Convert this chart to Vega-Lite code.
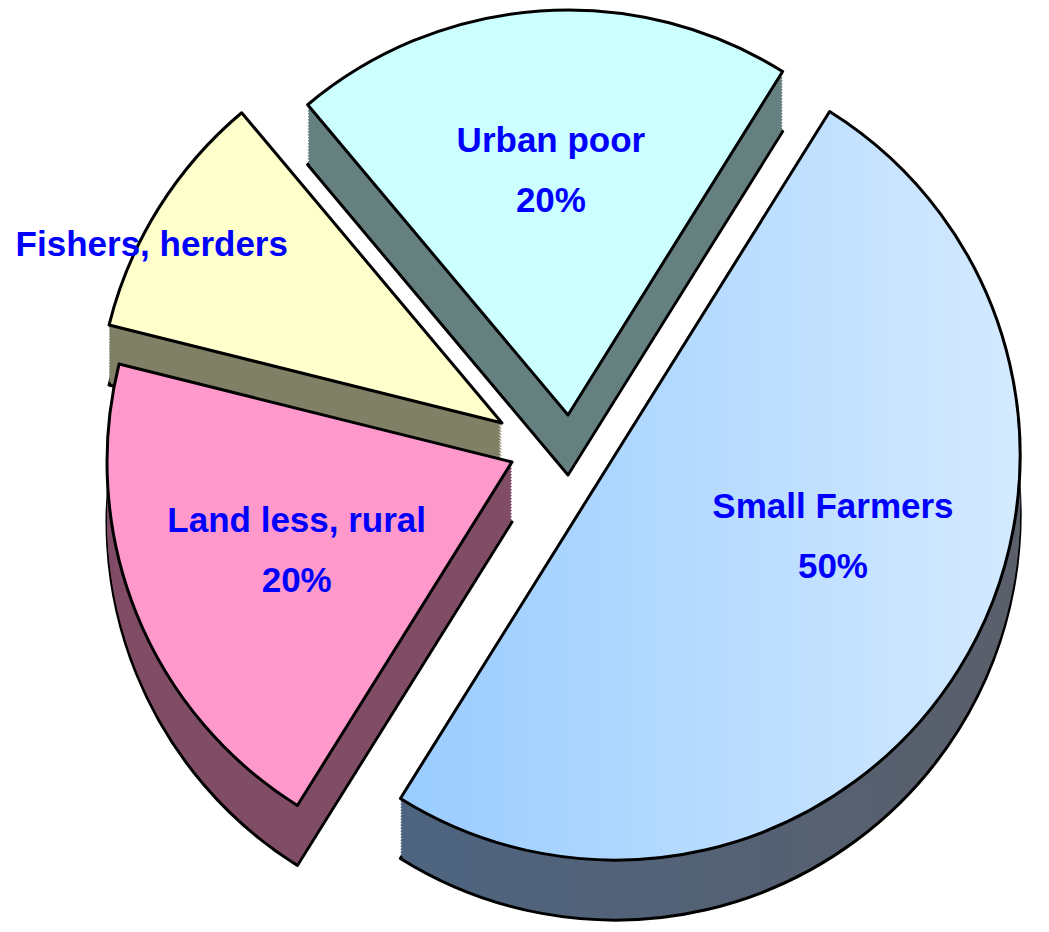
{
  "$schema": "https://vega.github.io/schema/vega-lite/v6.json",
  "width": 1049,
  "height": 932,
  "padding": 0,
  "autosize": {"type": "none"},
  "background": "white",
  "config": {
    "view": {"stroke": null},
    "arc": {"radius": 405},
    "text": {"font": "Liberation Sans, Arial, sans-serif", "fontSize": 35, "fontWeight": "bold", "fill": "#0000FF", "lineBreak": "\n", "lineHeight": 60},
    "style": {
      "edge": {"stroke": "black", "strokeWidth": 3, "strokeJoin": "round"}
    }
  },
  "data": {
    "values": [
      {"category": "Small Farmers", "value": 50, "order": 1, "label": "Small Farmers\n50%"},
      {"category": "Land less, rural", "value": 20, "order": 2, "label": "Land less, rural\n20%"},
      {"category": "Fishers, herders", "value": 10, "order": 3, "label": "Fishers, herders"},
      {"category": "Urban poor", "value": 20, "order": 4, "label": "Urban poor\n20%"}
    ]
  },
  "encoding": {
    "theta": {"field": "value", "type": "quantitative", "stack": true, "scale": {"range": [0.5585, 6.8417]}},
    "order": {"field": "order", "type": "quantitative"}
  },
  "layer": [
    {
      "encoding": {"opacity": {"condition": {"test": "datum.category === 'Urban poor'", "value": 1}, "value": 0}},
      "layer": [
        {"mark": {"type": "arc", "fill": "#668080", "style": "edge", "xOffset": 43.5, "yOffset": 9}},
        {"mark": {"type": "arc", "fill": "#668080", "xOffset": 43.5, "yOffset": 6}},
        {"mark": {"type": "arc", "fill": "#668080", "xOffset": 43.5, "yOffset": 3}},
        {"mark": {"type": "arc", "fill": "#668080", "xOffset": 43.5, "yOffset": 0}},
        {"mark": {"type": "arc", "fill": "#668080", "xOffset": 43.5, "yOffset": -3}},
        {"mark": {"type": "arc", "fill": "#668080", "xOffset": 43.5, "yOffset": -6}},
        {"mark": {"type": "arc", "fill": "#668080", "xOffset": 43.5, "yOffset": -9}},
        {"mark": {"type": "arc", "fill": "#668080", "xOffset": 43.5, "yOffset": -12}},
        {"mark": {"type": "arc", "fill": "#668080", "xOffset": 43.5, "yOffset": -15}},
        {"mark": {"type": "arc", "fill": "#668080", "xOffset": 43.5, "yOffset": -18}},
        {"mark": {"type": "arc", "fill": "#668080", "xOffset": 43.5, "yOffset": -21}},
        {"mark": {"type": "arc", "fill": "#668080", "xOffset": 43.5, "yOffset": -24}},
        {"mark": {"type": "arc", "fill": "#668080", "xOffset": 43.5, "yOffset": -27}},
        {"mark": {"type": "arc", "fill": "#668080", "xOffset": 43.5, "yOffset": -30}},
        {"mark": {"type": "arc", "fill": "#668080", "xOffset": 43.5, "yOffset": -33}},
        {"mark": {"type": "arc", "fill": "#668080", "xOffset": 43.5, "yOffset": -36}},
        {"mark": {"type": "arc", "fill": "#668080", "xOffset": 43.5, "yOffset": -39}},
        {"mark": {"type": "arc", "fill": "#668080", "xOffset": 43.5, "yOffset": -42}},
        {"mark": {"type": "arc", "fill": "#668080", "xOffset": 43.5, "yOffset": -45}},
        {"mark": {"type": "arc", "fill": "#668080", "xOffset": 43.5, "yOffset": -48}},
        {"mark": {"type": "arc", "fill": "#CCFFFF", "style": "edge", "xOffset": 43.5, "yOffset": -51}}
      ]
    },
    {
      "encoding": {"opacity": {"condition": {"test": "datum.category === 'Fishers, herders'", "value": 1}, "value": 0}},
      "layer": [
        {"mark": {"type": "arc", "fill": "#808066", "style": "edge", "xOffset": -22.5, "yOffset": 17}},
        {"mark": {"type": "arc", "fill": "#808066", "xOffset": -22.5, "yOffset": 14}},
        {"mark": {"type": "arc", "fill": "#808066", "xOffset": -22.5, "yOffset": 11}},
        {"mark": {"type": "arc", "fill": "#808066", "xOffset": -22.5, "yOffset": 8}},
        {"mark": {"type": "arc", "fill": "#808066", "xOffset": -22.5, "yOffset": 5}},
        {"mark": {"type": "arc", "fill": "#808066", "xOffset": -22.5, "yOffset": 2}},
        {"mark": {"type": "arc", "fill": "#808066", "xOffset": -22.5, "yOffset": -1}},
        {"mark": {"type": "arc", "fill": "#808066", "xOffset": -22.5, "yOffset": -4}},
        {"mark": {"type": "arc", "fill": "#808066", "xOffset": -22.5, "yOffset": -7}},
        {"mark": {"type": "arc", "fill": "#808066", "xOffset": -22.5, "yOffset": -10}},
        {"mark": {"type": "arc", "fill": "#808066", "xOffset": -22.5, "yOffset": -13}},
        {"mark": {"type": "arc", "fill": "#808066", "xOffset": -22.5, "yOffset": -16}},
        {"mark": {"type": "arc", "fill": "#808066", "xOffset": -22.5, "yOffset": -19}},
        {"mark": {"type": "arc", "fill": "#808066", "xOffset": -22.5, "yOffset": -22}},
        {"mark": {"type": "arc", "fill": "#808066", "xOffset": -22.5, "yOffset": -25}},
        {"mark": {"type": "arc", "fill": "#808066", "xOffset": -22.5, "yOffset": -28}},
        {"mark": {"type": "arc", "fill": "#808066", "xOffset": -22.5, "yOffset": -31}},
        {"mark": {"type": "arc", "fill": "#808066", "xOffset": -22.5, "yOffset": -34}},
        {"mark": {"type": "arc", "fill": "#808066", "xOffset": -22.5, "yOffset": -37}},
        {"mark": {"type": "arc", "fill": "#808066", "xOffset": -22.5, "yOffset": -40}},
        {"mark": {"type": "arc", "fill": "#FFFFCC", "style": "edge", "xOffset": -22.5, "yOffset": -43}}
      ]
    },
    {
      "encoding": {"opacity": {"condition": {"test": "datum.category === 'Land less, rural'", "value": 1}, "value": 0}},
      "layer": [
        {"mark": {"type": "arc", "fill": "#804D66", "style": "edge", "xOffset": -12.5, "yOffset": 56}},
        {"mark": {"type": "arc", "fill": "#804D66", "xOffset": -12.5, "yOffset": 53}},
        {"mark": {"type": "arc", "fill": "#804D66", "xOffset": -12.5, "yOffset": 50}},
        {"mark": {"type": "arc", "fill": "#804D66", "xOffset": -12.5, "yOffset": 47}},
        {"mark": {"type": "arc", "fill": "#804D66", "xOffset": -12.5, "yOffset": 44}},
        {"mark": {"type": "arc", "fill": "#804D66", "xOffset": -12.5, "yOffset": 41}},
        {"mark": {"type": "arc", "fill": "#804D66", "xOffset": -12.5, "yOffset": 38}},
        {"mark": {"type": "arc", "fill": "#804D66", "xOffset": -12.5, "yOffset": 35}},
        {"mark": {"type": "arc", "fill": "#804D66", "xOffset": -12.5, "yOffset": 32}},
        {"mark": {"type": "arc", "fill": "#804D66", "xOffset": -12.5, "yOffset": 29}},
        {"mark": {"type": "arc", "fill": "#804D66", "xOffset": -12.5, "yOffset": 26}},
        {"mark": {"type": "arc", "fill": "#804D66", "xOffset": -12.5, "yOffset": 23}},
        {"mark": {"type": "arc", "fill": "#804D66", "xOffset": -12.5, "yOffset": 20}},
        {"mark": {"type": "arc", "fill": "#804D66", "xOffset": -12.5, "yOffset": 17}},
        {"mark": {"type": "arc", "fill": "#804D66", "xOffset": -12.5, "yOffset": 14}},
        {"mark": {"type": "arc", "fill": "#804D66", "xOffset": -12.5, "yOffset": 11}},
        {"mark": {"type": "arc", "fill": "#804D66", "xOffset": -12.5, "yOffset": 8}},
        {"mark": {"type": "arc", "fill": "#804D66", "xOffset": -12.5, "yOffset": 5}},
        {"mark": {"type": "arc", "fill": "#804D66", "xOffset": -12.5, "yOffset": 2}},
        {"mark": {"type": "arc", "fill": "#804D66", "xOffset": -12.5, "yOffset": -1}},
        {"mark": {"type": "arc", "fill": "#FF99CC", "style": "edge", "xOffset": -12.5, "yOffset": -4}}
      ]
    },
    {
      "encoding": {"opacity": {"condition": {"test": "datum.category === 'Small Farmers'", "value": 1}, "value": 0}},
      "layer": [
        {"mark": {"type": "arc", "style": "edge", "fill": {"gradient": "linear", "x1": 0, "y1": 0, "x2": 1, "y2": 0, "stops": [{"offset": 0, "color": "#4D6480"}, {"offset": 1, "color": "#5A5F6A"}]}, "xOffset": 90.5, "yOffset": 49}},
        {"mark": {"type": "arc", "fill": {"gradient": "linear", "x1": 0, "y1": 0, "x2": 1, "y2": 0, "stops": [{"offset": 0, "color": "#4D6480"}, {"offset": 1, "color": "#5A5F6A"}]}, "xOffset": 90.5, "yOffset": 46}},
        {"mark": {"type": "arc", "fill": {"gradient": "linear", "x1": 0, "y1": 0, "x2": 1, "y2": 0, "stops": [{"offset": 0, "color": "#4D6480"}, {"offset": 1, "color": "#5A5F6A"}]}, "xOffset": 90.5, "yOffset": 43}},
        {"mark": {"type": "arc", "fill": {"gradient": "linear", "x1": 0, "y1": 0, "x2": 1, "y2": 0, "stops": [{"offset": 0, "color": "#4D6480"}, {"offset": 1, "color": "#5A5F6A"}]}, "xOffset": 90.5, "yOffset": 40}},
        {"mark": {"type": "arc", "fill": {"gradient": "linear", "x1": 0, "y1": 0, "x2": 1, "y2": 0, "stops": [{"offset": 0, "color": "#4D6480"}, {"offset": 1, "color": "#5A5F6A"}]}, "xOffset": 90.5, "yOffset": 37}},
        {"mark": {"type": "arc", "fill": {"gradient": "linear", "x1": 0, "y1": 0, "x2": 1, "y2": 0, "stops": [{"offset": 0, "color": "#4D6480"}, {"offset": 1, "color": "#5A5F6A"}]}, "xOffset": 90.5, "yOffset": 34}},
        {"mark": {"type": "arc", "fill": {"gradient": "linear", "x1": 0, "y1": 0, "x2": 1, "y2": 0, "stops": [{"offset": 0, "color": "#4D6480"}, {"offset": 1, "color": "#5A5F6A"}]}, "xOffset": 90.5, "yOffset": 31}},
        {"mark": {"type": "arc", "fill": {"gradient": "linear", "x1": 0, "y1": 0, "x2": 1, "y2": 0, "stops": [{"offset": 0, "color": "#4D6480"}, {"offset": 1, "color": "#5A5F6A"}]}, "xOffset": 90.5, "yOffset": 28}},
        {"mark": {"type": "arc", "fill": {"gradient": "linear", "x1": 0, "y1": 0, "x2": 1, "y2": 0, "stops": [{"offset": 0, "color": "#4D6480"}, {"offset": 1, "color": "#5A5F6A"}]}, "xOffset": 90.5, "yOffset": 25}},
        {"mark": {"type": "arc", "fill": {"gradient": "linear", "x1": 0, "y1": 0, "x2": 1, "y2": 0, "stops": [{"offset": 0, "color": "#4D6480"}, {"offset": 1, "color": "#5A5F6A"}]}, "xOffset": 90.5, "yOffset": 22}},
        {"mark": {"type": "arc", "fill": {"gradient": "linear", "x1": 0, "y1": 0, "x2": 1, "y2": 0, "stops": [{"offset": 0, "color": "#4D6480"}, {"offset": 1, "color": "#5A5F6A"}]}, "xOffset": 90.5, "yOffset": 19}},
        {"mark": {"type": "arc", "fill": {"gradient": "linear", "x1": 0, "y1": 0, "x2": 1, "y2": 0, "stops": [{"offset": 0, "color": "#4D6480"}, {"offset": 1, "color": "#5A5F6A"}]}, "xOffset": 90.5, "yOffset": 16}},
        {"mark": {"type": "arc", "fill": {"gradient": "linear", "x1": 0, "y1": 0, "x2": 1, "y2": 0, "stops": [{"offset": 0, "color": "#4D6480"}, {"offset": 1, "color": "#5A5F6A"}]}, "xOffset": 90.5, "yOffset": 13}},
        {"mark": {"type": "arc", "fill": {"gradient": "linear", "x1": 0, "y1": 0, "x2": 1, "y2": 0, "stops": [{"offset": 0, "color": "#4D6480"}, {"offset": 1, "color": "#5A5F6A"}]}, "xOffset": 90.5, "yOffset": 10}},
        {"mark": {"type": "arc", "fill": {"gradient": "linear", "x1": 0, "y1": 0, "x2": 1, "y2": 0, "stops": [{"offset": 0, "color": "#4D6480"}, {"offset": 1, "color": "#5A5F6A"}]}, "xOffset": 90.5, "yOffset": 7}},
        {"mark": {"type": "arc", "fill": {"gradient": "linear", "x1": 0, "y1": 0, "x2": 1, "y2": 0, "stops": [{"offset": 0, "color": "#4D6480"}, {"offset": 1, "color": "#5A5F6A"}]}, "xOffset": 90.5, "yOffset": 4}},
        {"mark": {"type": "arc", "fill": {"gradient": "linear", "x1": 0, "y1": 0, "x2": 1, "y2": 0, "stops": [{"offset": 0, "color": "#4D6480"}, {"offset": 1, "color": "#5A5F6A"}]}, "xOffset": 90.5, "yOffset": 1}},
        {"mark": {"type": "arc", "fill": {"gradient": "linear", "x1": 0, "y1": 0, "x2": 1, "y2": 0, "stops": [{"offset": 0, "color": "#4D6480"}, {"offset": 1, "color": "#5A5F6A"}]}, "xOffset": 90.5, "yOffset": -2}},
        {"mark": {"type": "arc", "fill": {"gradient": "linear", "x1": 0, "y1": 0, "x2": 1, "y2": 0, "stops": [{"offset": 0, "color": "#4D6480"}, {"offset": 1, "color": "#5A5F6A"}]}, "xOffset": 90.5, "yOffset": -5}},
        {"mark": {"type": "arc", "fill": {"gradient": "linear", "x1": 0, "y1": 0, "x2": 1, "y2": 0, "stops": [{"offset": 0, "color": "#4D6480"}, {"offset": 1, "color": "#5A5F6A"}]}, "xOffset": 90.5, "yOffset": -8}},
        {"mark": {"type": "arc", "style": "edge", "fill": {"gradient": "linear", "x1": 0, "y1": 0, "x2": 1, "y2": 0, "stops": [{"offset": 0, "color": "#99CCFF"}, {"offset": 1, "color": "#D4EAFF"}]}, "xOffset": 90.5, "yOffset": -11}}
      ]
    },
    {
      "mark": {"type": "text", "radius": 245, "xOffset": 43.5, "yOffset": -51, "dy": -30},
      "encoding": {"text": {"field": "label"}, "opacity": {"condition": {"test": "datum.category === 'Urban poor'", "value": 1}, "value": 0}}
    },
    {
      "mark": {"type": "text", "radius": 400, "xOffset": -22.5, "yOffset": -43, "dx": -11, "dy": 34},
      "encoding": {"text": {"field": "label"}, "opacity": {"condition": {"test": "datum.category === 'Fishers, herders'", "value": 1}, "value": 0}}
    },
    {
      "mark": {"type": "text", "radius": 243, "xOffset": -12.5, "yOffset": -4, "dx": 10, "dy": -32},
      "encoding": {"text": {"field": "label"}, "opacity": {"condition": {"test": "datum.category === 'Land less, rural'", "value": 1}, "value": 0}}
    },
    {
      "mark": {"type": "text", "radius": 257, "xOffset": 90.5, "yOffset": -11, "dy": -84},
      "encoding": {"text": {"field": "label"}, "opacity": {"condition": {"test": "datum.category === 'Small Farmers'", "value": 1}, "value": 0}}
    }
  ]
}
